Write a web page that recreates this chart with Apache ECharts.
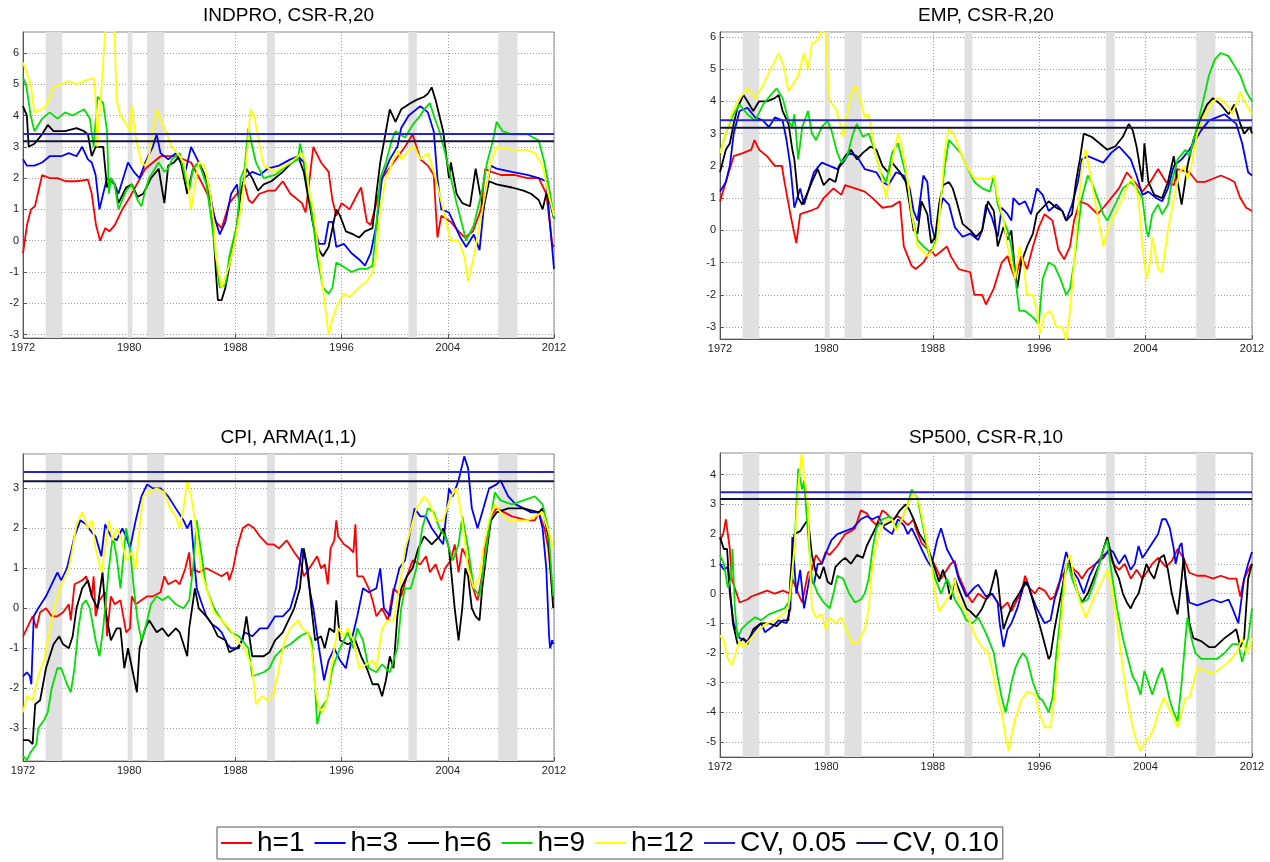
<!DOCTYPE html>
<html><head><meta charset="utf-8">
<script src="https://cdn.jsdelivr.net/npm/echarts@6/dist/echarts.min.js"></script>
<style>html,body{margin:0;padding:0;background:#fff}#c{width:1270px;height:862px}</style>
</head><body><div id="c"></div>
<script>
// ---------- data ----------
const panelTitles = ['INDPRO, CSR-R,20', 'EMP, CSR-R,20', 'CPI, ARMA(1,1)', 'SP500, CSR-R,10'];
const seriesNames = ['h=1', 'h=3', 'h=6', 'h=9', 'h=12'];
const cvNames = ['CV, 0.05', 'CV, 0.10'];
const cvValues = [3.41, 3.18];
const xTicks = [1972, 1980, 1988, 1996, 2004, 2012];
const yTicksINDPRO = [-3, -2, -1, 0, 1, 2, 3, 4, 5, 6];
const yTicksEMP = [-3, -2, -1, 0, 1, 2, 3, 4, 5, 6];
const yTicksCPI = [-3, -2, -1, 0, 1, 2, 3];
const yTicksSP500 = [-5, -4, -3, -2, -1, 0, 1, 2, 3, 4];
const yRanges = [[-3.11, 6.67], [-3.37, 6.15], [-3.82, 3.86], [-5.5, 4.73]];
const recessions = [[1973.7, 1974.95], [1979.88, 1980.25], [1981.35, 1982.65], [1990.38, 1990.97], [2001.03, 2001.67], [2007.8, 2009.25]];

const INDPRO_h1 = [[1972,-0.4],[1972.3,0.5],[1972.6,1.0],[1972.9,1.1],[1973.44,2.1],[1974.01,2.0],[1974.6,2.0],[1975.2,1.9],[1976.03,1.9],[1976.89,1.95],[1977.18,1.5],[1977.5,0.5],[1977.81,0.0],[1978.2,0.4],[1978.5,0.3],[1978.91,0.5],[1979.48,1.0],[1980.06,1.4],[1981.21,2.3],[1982.36,2.7],[1983.51,2.7],[1984.66,2.5],[1985.53,1.8],[1986.1,1.3],[1986.53,0.6],[1986.96,0.4],[1987.54,1.2],[1988.12,1.5],[1988.69,1.8],[1989.0,1.3],[1989.27,1.2],[1989.8,1.5],[1990.5,1.6],[1990.99,1.6],[1991.57,1.9],[1992.14,1.5],[1993.01,1.2],[1993.29,0.9],[1993.87,3.0],[1994.45,2.5],[1995.02,2.2],[1995.31,1.3],[1995.6,0.8],[1996.0,1.2],[1996.6,1.0],[1997.2,1.5],[1997.47,1.7],[1997.9,0.6],[1998.19,0.5],[1998.62,1.2],[1999.05,2.0],[1999.91,2.5],[2000.78,3.0],[2001.35,3.4],[2001.64,3.0],[2001.93,2.6],[2002.5,2.4],[2002.94,2.1],[2003.22,0.1],[2003.51,0.8],[2004.23,0.6],[2004.81,0.3],[2005.3,0.1],[2005.9,0.3],[2006.5,1.0],[2006.82,2.3],[2007.3,2.2],[2008.0,2.1],[2009.0,2.1],[2010.0,2.0],[2010.85,2.0],[2011.42,1.5],[2011.86,-0.1],[2012,-0.2]];
const INDPRO_h3 = [[1972,2.6],[1972.29,2.4],[1972.86,2.4],[1973.44,2.5],[1974.01,2.7],[1974.88,2.7],[1975.45,2.8],[1976.03,2.7],[1976.46,3.0],[1976.89,2.6],[1977.18,2.5],[1977.47,2.1],[1977.76,1.0],[1978.04,1.5],[1978.33,2.0],[1978.91,1.8],[1979.19,1.5],[1979.91,2.5],[1980.35,2.2],[1980.78,2.0],[1981.21,2.5],[1981.78,3.0],[1982.07,3.4],[1982.36,2.8],[1982.94,2.6],[1983.51,2.8],[1984.23,2.2],[1984.66,3.0],[1985.24,2.5],[1985.96,1.8],[1986.39,0.8],[1986.82,0.2],[1987.25,0.6],[1987.68,1.5],[1988.12,1.8],[1988.26,1.3],[1988.69,2.0],[1989.27,2.2],[1989.84,2.1],[1990.42,2.3],[1991.28,2.4],[1992.14,2.6],[1992.72,2.7],[1993.15,2.5],[1993.53,1.5],[1993.87,0.5],[1994.3,-0.1],[1994.73,-0.1],[1995.02,0.6],[1995.31,0.6],[1995.6,-0.2],[1996.17,-0.1],[1996.75,-0.4],[1997.32,-0.6],[1997.76,-0.8],[1998.19,-0.4],[1998.62,0.5],[1999.05,2.0],[1999.63,2.6],[2000.2,3.0],[2000.49,3.6],[2001.06,4.0],[2001.93,4.3],[2002.5,4.1],[2002.94,3.5],[2003.22,2.0],[2003.51,1.0],[2004.09,0.9],[2004.52,0.5],[2004.95,0.1],[2005.38,-0.2],[2005.96,0.2],[2006.39,-0.3],[2006.82,1.5],[2007.25,2.4],[2007.68,2.3],[2008.83,2.2],[2009.99,2.1],[2010.85,2.0],[2011.42,1.9],[2011.71,0.5],[2012,-0.9]];
const INDPRO_h6 = [[1972,4.3],[1972.06,4.3],[1972.29,4.0],[1972.43,3.0],[1972.86,3.1],[1973.44,3.4],[1973.87,3.7],[1974.3,3.5],[1975.17,3.5],[1976.03,3.6],[1976.6,3.5],[1976.89,3.4],[1977.18,2.7],[1977.47,3.0],[1978.04,3.0],[1978.33,1.7],[1978.62,2.0],[1978.91,1.8],[1979.19,1.2],[1979.77,1.7],[1980.2,1.8],[1980.63,1.4],[1981.06,1.5],[1981.64,2.0],[1982.22,2.3],[1982.65,1.2],[1982.94,2.4],[1983.37,2.5],[1983.8,2.7],[1984.37,1.5],[1984.81,2.3],[1985.24,2.5],[1985.81,2.0],[1986.24,1.0],[1986.39,0.0],[1986.53,-1.0],[1986.68,-1.9],[1986.96,-1.9],[1987.25,-1.5],[1987.68,-0.5],[1988.12,0.5],[1988.4,1.5],[1988.83,2.3],[1989.27,2.0],[1989.7,1.6],[1990.13,1.8],[1990.71,1.9],[1991.57,2.2],[1992.72,2.7],[1993.15,2.2],[1993.44,1.5],[1993.87,0.5],[1994.3,-0.3],[1994.59,-0.5],[1995.02,-0.2],[1995.6,1.0],[1995.88,0.8],[1996.32,0.3],[1996.89,0.2],[1997.32,0.1],[1997.76,0.3],[1998.33,0.4],[1998.62,1.5],[1998.91,2.5],[1999.34,3.5],[1999.63,4.2],[2000.06,3.8],[2000.49,4.2],[2001.21,4.4],[2001.64,4.5],[2002.22,4.6],[2002.5,4.7],[2002.79,4.9],[2003.08,4.5],[2003.65,3.5],[2004.09,2.0],[2004.23,2.5],[2004.66,1.5],[2005.09,1.2],[2005.67,1.1],[2006.1,2.3],[2006.39,1.6],[2006.68,1.0],[2007.11,1.9],[2007.68,1.8],[2008.83,1.7],[2009.7,1.6],[2010.27,1.5],[2010.85,1.3],[2011.14,1.0],[2011.42,1.5],[2011.71,1.2],[2012,0.7]];
const INDPRO_h9 = [[1972,5.2],[1972.23,5.0],[1972.58,4.0],[1972.86,3.5],[1973.44,3.9],[1974.01,4.1],[1974.59,3.9],[1975.17,4.1],[1975.74,4.0],[1976.6,4.2],[1977.04,3.9],[1977.32,3.0],[1977.61,4.6],[1978.04,4.4],[1978.33,3.5],[1978.47,1.5],[1978.62,2.0],[1978.91,1.8],[1979.19,1.0],[1979.77,1.6],[1980.2,1.8],[1980.63,1.3],[1980.92,1.1],[1981.21,1.6],[1981.5,2.0],[1982.22,2.5],[1982.65,2.2],[1982.94,2.3],[1983.22,2.6],[1983.8,2.8],[1984.23,2.0],[1984.52,1.6],[1984.81,2.3],[1985.24,2.5],[1985.81,1.8],[1986.24,0.5],[1986.53,-0.5],[1986.82,-1.5],[1987.25,-1.4],[1987.54,-0.5],[1988.12,0.5],[1988.4,2.0],[1988.69,2.3],[1988.98,3.6],[1989.27,3.0],[1989.55,2.5],[1990.13,2.0],[1990.99,2.1],[1991.86,2.4],[1992.72,2.6],[1992.86,3.1],[1993.15,2.6],[1993.58,1.5],[1993.87,0.5],[1994.16,-0.5],[1994.59,-1.5],[1995.02,-1.7],[1995.31,-1.5],[1995.6,-0.7],[1996.03,-0.8],[1996.75,-1.0],[1997.32,-0.9],[1997.9,-0.9],[1998.33,-0.8],[1998.62,0.5],[1998.91,2.0],[1999.34,2.5],[1999.77,3.2],[2000.06,3.5],[2000.78,3.3],[2001.35,3.7],[2001.93,4.0],[2002.22,4.2],[2002.65,4.4],[2002.94,4.0],[2003.37,3.5],[2003.8,2.8],[2004.23,2.0],[2004.66,1.2],[2005.09,0.5],[2005.38,0.0],[2005.96,0.5],[2006.53,1.5],[2006.96,2.5],[2007.4,3.2],[2007.68,3.8],[2008.12,3.5],[2008.83,3.4],[2009.99,3.4],[2010.85,3.2],[2011.28,2.5],[2011.71,1.5],[2012,0.7]];
const INDPRO_h12 = [[1972,5.7],[1972.58,5.0],[1972.86,4.1],[1973.44,4.2],[1973.73,4.3],[1974.3,4.9],[1974.88,5.0],[1975.45,5.1],[1976.03,5.0],[1976.6,5.1],[1977.32,5.2],[1977.47,4.5],[1977.61,3.0],[1977.9,4.8],[1978.19,6.7],[1978.9,6.7],[1979.05,4.5],[1979.34,4.0],[1979.8,3.7],[1980.06,3.5],[1980.2,4.3],[1980.49,3.3],[1980.92,2.5],[1981.21,2.4],[1981.5,2.7],[1981.78,3.5],[1982.07,4.2],[1982.65,3.6],[1983.22,3.0],[1983.8,2.7],[1984.09,2.5],[1984.37,2.0],[1984.66,1.0],[1984.95,1.8],[1985.24,2.5],[1985.67,2.4],[1986.1,1.5],[1986.39,0.5],[1986.53,-0.5],[1986.96,-1.5],[1987.54,-0.8],[1987.97,0.0],[1988.4,1.0],[1988.69,2.0],[1988.92,3.0],[1989.12,4.2],[1989.41,4.0],[1989.84,3.0],[1990.13,2.4],[1990.99,2.2],[1992.14,2.5],[1993.01,2.8],[1993.29,2.5],[1993.58,1.5],[1993.87,1.0],[1994.16,0.0],[1994.45,-1.0],[1994.73,-2.0],[1995.02,-3.0],[1995.31,-2.5],[1995.74,-2.0],[1996.17,-1.7],[1996.6,-1.8],[1997.32,-1.5],[1997.9,-1.3],[1998.33,-1.0],[1998.62,-0.5],[1998.91,1.0],[1999.34,2.0],[2000.2,2.9],[2000.49,2.6],[2001.06,2.9],[2001.5,3.0],[2001.93,2.6],[2002.5,2.8],[2003.08,2.0],[2003.65,1.0],[2004.23,0.0],[2004.81,0.0],[2005.24,-0.5],[2005.53,-1.3],[2005.96,-0.5],[2006.39,0.5],[2006.82,1.5],[2007.25,2.5],[2007.68,3.0],[2008.83,2.9],[2009.99,2.9],[2010.56,2.8],[2011.14,2.4],[2011.57,1.5],[2012,0.8]];

const EMP_h1 = [[1972,0.9],[1972.44,1.5],[1973.03,2.3],[1973.76,2.4],[1974.35,2.5],[1974.59,2.8],[1974.94,2.5],[1975.53,2.3],[1976.12,2.0],[1976.65,2.0],[1976.85,1.5],[1977.29,0.5],[1977.74,-0.4],[1978.03,0.5],[1978.76,0.6],[1979.35,0.7],[1979.79,1.0],[1980.53,1.3],[1981.12,1.1],[1981.41,1.4],[1982.15,1.3],[1982.88,1.2],[1983.47,1.0],[1984.21,0.7],[1984.94,0.75],[1985.53,0.9],[1985.68,0.9],[1985.82,-0.5],[1986.41,-1.1],[1986.71,-1.2],[1987.29,-1.0],[1987.88,-0.6],[1988.18,-0.8],[1989.06,-0.5],[1989.35,-0.8],[1989.94,-1.2],[1990.82,-1.3],[1991.12,-2.0],[1991.71,-2.0],[1992.0,-2.3],[1992.59,-1.8],[1993.18,-1.0],[1993.62,-0.8],[1993.91,-1.2],[1994.21,-1.5],[1994.65,-0.8],[1995.09,-1.2],[1995.53,-0.5],[1995.97,0.1],[1996.41,0.5],[1997.0,0.3],[1997.44,-0.6],[1997.88,-0.9],[1998.32,-0.5],[1998.62,0.3],[1999.06,0.9],[1999.65,0.8],[2000.38,0.5],[2000.82,0.7],[2001.41,1.0],[2002.0,1.3],[2002.59,1.8],[2003.18,1.5],[2003.76,1.2],[2004.35,1.5],[2004.94,1.9],[2005.53,1.5],[2006.12,1.4],[2006.41,1.9],[2007.29,1.8],[2007.88,1.5],[2008.47,1.5],[2009.06,1.6],[2009.65,1.7],[2010.24,1.6],[2010.68,1.5],[2011.12,1.0],[2011.56,0.7],[2012,0.6]];
const EMP_h3 = [[1972,1.2],[1972.44,1.5],[1972.74,2.0],[1973.03,3.0],[1973.47,3.7],[1974.06,3.8],[1974.65,3.5],[1975.24,3.4],[1975.68,3.2],[1976.12,3.5],[1976.71,3.4],[1977.0,2.8],[1977.29,2.0],[1977.59,0.7],[1978.03,1.3],[1978.32,0.8],[1978.76,1.4],[1979.06,1.8],[1979.65,2.1],[1980.24,2.0],[1980.82,1.9],[1981.26,2.1],[1981.71,2.4],[1982.29,2.3],[1982.88,1.9],[1983.76,1.8],[1984.21,1.5],[1984.65,1.4],[1985.24,1.8],[1985.82,1.7],[1986.26,1.3],[1986.56,0.6],[1986.85,0.3],[1987.29,1.7],[1987.59,1.5],[1987.88,0.2],[1988.18,-0.3],[1988.47,0.5],[1988.76,1.0],[1989.21,0.8],[1989.65,0.1],[1990.24,-0.2],[1990.82,-0.1],[1991.41,-0.3],[1991.71,0.0],[1992.0,0.8],[1992.44,0.4],[1992.88,-0.2],[1993.18,0.7],[1993.62,0.5],[1993.91,0.3],[1994.06,1.0],[1994.5,0.8],[1994.94,0.9],[1995.38,0.5],[1995.82,1.3],[1996.26,1.1],[1996.71,0.6],[1997.29,0.8],[1997.74,0.6],[1998.03,0.3],[1998.47,0.8],[1998.91,1.5],[1999.21,2.2],[1999.65,2.3],[2000.24,2.2],[2000.82,2.1],[2001.41,2.4],[2002.0,2.6],[2002.44,2.4],[2002.88,2.2],[2003.32,1.7],[2003.76,1.1],[2004.21,1.2],[2004.79,1.0],[2005.24,0.9],[2005.68,1.3],[2006.12,2.0],[2006.71,2.2],[2007.29,2.5],[2007.74,2.8],[2008.18,3.1],[2008.76,3.4],[2009.35,3.5],[2009.94,3.6],[2010.53,3.4],[2010.82,3.3],[2011.26,2.7],[2011.71,1.8],[2012,1.7]];
const EMP_h6 = [[1972,1.8],[1972.44,2.5],[1972.74,2.7],[1973.03,3.3],[1973.32,3.8],[1973.76,4.2],[1974.06,4.0],[1974.5,3.7],[1974.94,4.0],[1975.53,4.0],[1976.12,4.1],[1976.41,4.2],[1976.71,3.7],[1977.15,3.3],[1977.44,2.5],[1977.59,2.2],[1977.88,1.0],[1978.18,0.8],[1978.62,1.2],[1978.91,1.5],[1979.35,1.9],[1979.79,1.4],[1980.24,1.6],[1980.68,1.5],[1980.97,2.0],[1981.41,2.3],[1981.85,2.5],[1982.29,2.2],[1982.74,2.4],[1983.32,2.6],[1983.76,2.5],[1984.21,2.0],[1984.65,1.8],[1984.94,2.1],[1985.53,1.8],[1985.97,1.5],[1986.26,0.8],[1986.56,0.0],[1986.85,-0.1],[1987.15,0.9],[1987.59,0.5],[1987.88,-0.4],[1988.18,-0.2],[1988.47,0.8],[1988.76,1.4],[1989.21,1.5],[1989.5,1.3],[1989.79,0.9],[1990.24,0.2],[1990.82,0.0],[1991.26,-0.2],[1991.71,0.0],[1992.15,0.9],[1992.59,0.6],[1992.88,-0.5],[1993.32,0.1],[1993.62,-0.3],[1993.91,0.0],[1994.12,-1.0],[1994.35,-1.8],[1994.65,-1.0],[1995.09,-0.5],[1995.53,-0.1],[1995.82,0.5],[1996.26,0.7],[1996.71,0.9],[1997.29,0.7],[1997.74,0.6],[1998.03,0.3],[1998.47,0.5],[1998.76,1.5],[1999.06,2.2],[1999.35,3.0],[1999.94,2.9],[2000.53,2.7],[2001.12,2.5],[2001.71,2.6],[2002.29,2.9],[2002.74,3.3],[2003.03,3.1],[2003.32,2.6],[2003.76,1.5],[2003.91,2.7],[2004.21,1.5],[2004.65,1.1],[2005.24,1.0],[2005.68,1.5],[2006.12,2.3],[2006.41,1.5],[2006.71,0.8],[2007.15,2.0],[2007.59,2.8],[2008.18,3.5],[2008.62,3.9],[2009.06,4.1],[2009.65,3.9],[2010.24,3.6],[2010.68,3.9],[2011.12,3.3],[2011.41,3.0],[2011.85,3.2],[2012,3.0]];
const EMP_h9 = [[1972,2.4],[1972.44,3.0],[1972.88,3.5],[1973.47,3.9],[1974.06,3.6],[1974.65,3.4],[1975.24,3.9],[1975.82,4.2],[1976.26,4.4],[1976.71,4.1],[1977.15,3.4],[1977.44,3.2],[1977.59,3.6],[1977.88,2.2],[1978.18,3.2],[1978.62,3.7],[1978.91,3.0],[1979.21,2.8],[1979.65,3.2],[1980.09,3.4],[1980.38,3.1],[1980.82,2.4],[1981.12,2.1],[1981.56,2.3],[1982.0,3.0],[1982.29,3.3],[1982.74,2.9],[1983.18,3.0],[1983.62,2.5],[1984.06,1.8],[1984.5,1.5],[1984.94,2.4],[1985.38,2.7],[1985.68,2.2],[1986.12,1.5],[1986.41,0.5],[1986.85,-0.3],[1987.29,-0.5],[1987.88,-0.7],[1988.32,-0.2],[1988.62,1.0],[1988.91,2.0],[1989.21,2.8],[1989.65,2.6],[1990.09,2.4],[1990.53,2.0],[1991.12,1.5],[1991.71,1.3],[1992.29,1.2],[1992.59,1.7],[1992.88,0.8],[1993.32,0.3],[1993.62,0.0],[1993.91,-0.5],[1994.21,-1.5],[1994.5,-2.5],[1994.94,-2.5],[1995.53,-2.7],[1995.97,-2.9],[1996.26,-1.5],[1996.71,-1.0],[1997.15,-1.1],[1997.59,-1.5],[1998.03,-2.0],[1998.32,-1.8],[1998.62,-1.0],[1998.91,0.0],[1999.21,1.0],[1999.65,1.7],[1999.94,1.5],[2000.38,1.0],[2000.82,0.5],[2001.12,0.3],[2001.71,0.8],[2002.29,1.3],[2002.88,1.5],[2003.32,1.3],[2003.76,1.0],[2004.06,0.0],[2004.21,-0.2],[2004.5,0.5],[2004.94,0.8],[2005.24,0.5],[2005.68,0.8],[2005.97,1.5],[2006.41,2.2],[2007.0,2.5],[2007.29,2.3],[2007.74,3.0],[2008.32,4.0],[2008.76,4.8],[2009.21,5.3],[2009.65,5.5],[2010.24,5.4],[2010.68,5.1],[2011.12,4.8],[2011.56,4.3],[2012,4.0]];
const EMP_h12 = [[1972,2.4],[1972.44,3.0],[1972.88,3.6],[1973.32,4.0],[1974.06,4.4],[1974.65,4.1],[1975.24,4.5],[1975.82,5.0],[1976.41,5.5],[1976.85,5.0],[1977.15,4.3],[1977.44,4.5],[1977.88,4.8],[1978.32,5.5],[1978.62,5.0],[1978.91,5.8],[1979.35,5.9],[1979.65,6.2],[1979.94,6.1],[1980.09,5.0],[1980.24,4.0],[1980.68,3.8],[1981.12,3.2],[1981.26,2.9],[1981.56,3.6],[1981.85,4.2],[1982.15,4.5],[1982.59,4.0],[1982.88,3.5],[1983.18,3.6],[1983.62,2.5],[1984.06,1.8],[1984.5,1.0],[1984.94,2.1],[1985.38,3.0],[1985.68,2.6],[1986.12,1.5],[1986.41,0.5],[1986.85,-0.5],[1987.59,-0.8],[1988.03,-0.6],[1988.32,-0.3],[1988.62,1.0],[1988.91,2.5],[1989.21,3.2],[1989.65,2.9],[1990.09,2.4],[1990.53,2.0],[1991.12,1.6],[1991.71,1.6],[1992.29,1.6],[1992.59,1.7],[1992.88,1.0],[1993.32,0.3],[1993.62,-0.5],[1993.91,-1.0],[1994.21,-1.5],[1994.5,-0.5],[1994.79,-1.0],[1995.09,-2.0],[1995.53,-2.0],[1995.82,-2.5],[1996.06,-3.2],[1996.41,-2.6],[1996.85,-2.5],[1997.29,-3.0],[1997.74,-3.0],[1998.03,-3.4],[1998.32,-2.5],[1998.62,-1.0],[1998.91,0.5],[1999.21,2.0],[1999.5,2.5],[1999.94,1.5],[2000.38,0.5],[2000.82,-0.5],[2001.12,0.0],[2001.71,0.5],[2002.29,1.0],[2002.74,1.5],[2003.03,1.6],[2003.47,1.0],[2003.76,-0.5],[2004.06,-1.5],[2004.35,-1.0],[2004.5,-0.2],[2004.94,-1.2],[2005.24,-1.3],[2005.68,0.0],[2006.12,1.0],[2006.56,1.8],[2006.85,2.0],[2007.15,1.6],[2007.44,2.0],[2007.88,3.0],[2008.32,3.5],[2009.06,4.0],[2009.5,4.1],[2010.09,3.9],[2010.53,3.6],[2011.12,4.3],[2011.41,4.0],[2012,3.6]];

const CPI_h1 = [[1972,-0.7],[1972.29,-0.5],[1972.58,-0.3],[1972.72,-0.2],[1973.01,-0.5],[1973.29,-0.1],[1973.73,0.0],[1974.16,-0.2],[1974.59,-0.2],[1975.02,-0.1],[1975.45,0.1],[1975.6,-0.3],[1975.88,0.6],[1976.46,0.7],[1976.75,0.8],[1977.04,0.5],[1977.18,0.3],[1977.32,0.8],[1977.47,-0.2],[1977.76,0.2],[1978.19,0.4],[1978.33,-0.7],[1978.62,0.3],[1978.91,0.1],[1979.34,0.2],[1979.77,-0.6],[1980.06,-0.5],[1980.2,0.3],[1980.49,0.1],[1980.92,0.2],[1981.35,0.3],[1981.78,0.3],[1982.36,0.4],[1982.65,0.8],[1982.94,0.6],[1983.51,0.7],[1983.8,0.6],[1984.23,1.0],[1984.52,1.4],[1984.66,0.8],[1984.81,1.0],[1985.24,0.9],[1985.81,1.0],[1986.39,0.9],[1986.96,0.8],[1987.4,0.9],[1987.54,0.7],[1987.83,1.0],[1988.12,1.5],[1988.55,2.0],[1988.98,2.1],[1989.41,2.0],[1989.84,1.8],[1990.42,1.6],[1990.85,1.6],[1991.28,1.5],[1991.86,1.7],[1992.43,1.4],[1992.86,1.2],[1993.15,0.8],[1993.58,1.0],[1994.16,1.3],[1994.45,1.0],[1994.73,1.1],[1994.96,0.6],[1995.17,1.5],[1995.45,1.7],[1995.6,2.2],[1995.74,1.8],[1996.17,1.6],[1996.6,1.5],[1996.89,1.4],[1997.04,2.1],[1997.18,0.8],[1997.61,0.8],[1998.04,0.5],[1998.33,0.2],[1998.62,-0.2],[1999.05,0.0],[1999.48,-0.3],[1999.91,0.5],[2000.49,0.3],[2000.92,0.8],[2001.35,1.2],[2001.93,1.1],[2002.36,1.3],[2002.65,0.9],[2003.08,1.1],[2003.51,0.7],[2003.8,1.0],[2004.23,1.2],[2004.52,1.6],[2004.81,0.9],[2005.09,1.5],[2005.53,1.2],[2005.81,0.6],[2006.1,0.3],[2006.24,0.2],[2006.68,1.0],[2006.82,1.6],[2007.25,2.3],[2007.68,2.5],[2008.26,2.4],[2008.83,2.3],[2009.99,2.2],[2010.56,2.2],[2010.85,2.4],[2011.28,2.0],[2011.57,1.5],[2011.94,0.2]];
const CPI_h3 = [[1972,-1.7],[1972.29,-1.6],[1972.52,-1.7],[1972.63,-1.9],[1972.81,-0.2],[1973.15,0.0],[1973.73,0.3],[1974.16,0.6],[1974.59,0.9],[1974.88,0.7],[1975.31,1.0],[1975.6,1.4],[1975.88,1.8],[1976.32,2.2],[1976.75,2.1],[1977.18,1.9],[1977.47,1.8],[1977.9,1.3],[1978.19,2.1],[1978.62,1.8],[1979.05,1.7],[1979.48,2.0],[1979.77,1.8],[1980.06,1.5],[1980.49,2.2],[1980.92,2.8],[1981.35,3.1],[1981.78,3.0],[1982.36,3.0],[1982.94,2.8],[1983.51,2.5],[1984.09,2.2],[1984.37,2.0],[1984.66,2.2],[1984.95,1.0],[1985.09,0.5],[1985.38,0.2],[1985.81,-0.2],[1986.24,-0.4],[1986.68,-0.5],[1986.96,-0.6],[1987.4,-0.9],[1987.68,-1.0],[1988.26,-1.0],[1988.69,-0.6],[1989.27,-0.7],[1989.84,-0.5],[1990.42,-0.5],[1990.99,-0.2],[1991.57,-0.2],[1992.14,0.0],[1992.57,0.5],[1993.01,1.5],[1993.29,1.2],[1993.58,0.5],[1993.87,0.0],[1994.3,-1.0],[1994.68,-1.8],[1995.02,-1.3],[1995.45,-1.0],[1995.88,-1.3],[1996.32,-1.5],[1996.75,-0.8],[1997.18,-0.2],[1997.61,0.5],[1998.04,0.4],[1998.62,0.5],[1998.91,1.0],[1999.19,0.0],[1999.63,-0.2],[1999.91,0.4],[2000.35,1.0],[2000.78,1.2],[2001.21,2.0],[2001.5,2.5],[2001.93,2.3],[2002.36,2.3],[2002.79,2.0],[2003.22,1.8],[2003.65,1.6],[2004.09,3.0],[2004.37,2.8],[2004.81,3.2],[2005.24,3.8],[2005.53,3.5],[2005.81,2.5],[2006.24,2.0],[2006.68,2.5],[2007.11,3.0],[2007.68,3.1],[2007.97,3.2],[2008.55,2.8],[2009.12,2.6],[2009.7,2.5],[2010.27,2.4],[2010.85,2.4],[2011.14,2.0],[2011.42,1.0],[2011.63,-0.7],[2011.71,-1.0],[2011.86,-0.8],[2011.94,-0.9]];
const CPI_h6 = [[1972,-3.3],[1972.43,-3.3],[1972.72,-3.4],[1972.92,-2.4],[1973.29,-2.3],[1973.73,-1.5],[1974.3,-0.9],[1974.73,-0.7],[1975.02,-0.9],[1975.45,-1.0],[1975.74,-0.7],[1976.03,0.0],[1976.46,0.5],[1976.89,0.7],[1977.18,0.3],[1977.61,0.0],[1977.99,0.9],[1978.19,0.0],[1978.62,-0.8],[1979.05,-0.5],[1979.34,-0.5],[1979.63,-1.5],[1979.91,-1.0],[1980.58,-2.1],[1980.78,-1.0],[1981.21,-0.5],[1981.5,-0.3],[1982.07,-0.6],[1982.5,-0.5],[1982.94,-0.7],[1983.51,-0.5],[1983.8,-0.6],[1984.09,-0.9],[1984.37,-1.2],[1984.52,-0.5],[1984.95,0.5],[1985.24,0.0],[1985.81,-0.2],[1986.24,-0.4],[1986.68,-0.7],[1987.25,-0.8],[1987.54,-1.1],[1988.12,-1.0],[1988.55,-0.8],[1988.83,-0.2],[1989.27,-1.2],[1990.13,-1.2],[1990.56,-1.1],[1990.99,-0.8],[1991.57,-0.6],[1992.0,-0.3],[1992.43,0.0],[1992.86,0.5],[1993.15,1.5],[1993.44,1.0],[1993.73,0.0],[1994.01,-0.8],[1994.45,-0.7],[1994.73,-1.0],[1995.08,-0.5],[1995.45,-0.6],[1995.6,0.2],[1995.88,-0.8],[1996.46,-0.9],[1997.04,-0.8],[1997.47,-1.2],[1997.9,-1.5],[1998.33,-1.9],[1998.76,-1.9],[1999.05,-2.2],[1999.34,-1.8],[1999.63,-1.2],[1999.91,-1.5],[2000.2,-0.2],[2000.49,0.5],[2000.92,0.8],[2001.35,1.0],[2001.78,1.5],[2002.22,1.8],[2002.79,1.6],[2003.37,1.8],[2003.65,2.0],[2004.09,1.5],[2004.52,0.0],[2004.81,-0.8],[2005.09,0.0],[2005.32,1.0],[2005.53,0.8],[2005.81,0.0],[2006.1,-0.2],[2006.39,-0.3],[2006.59,0.5],[2006.96,1.5],[2007.25,2.2],[2007.68,2.4],[2008.55,2.5],[2009.7,2.5],[2010.85,2.4],[2011.14,2.5],[2011.57,1.8],[2011.94,0.0]];
const CPI_h9 = [[1972,-3.7],[1972.29,-3.8],[1972.58,-3.6],[1973.01,-3.4],[1973.15,-3.0],[1973.58,-2.8],[1973.87,-2.6],[1974.16,-2.0],[1974.59,-1.5],[1974.88,-1.5],[1975.31,-1.9],[1975.6,-2.1],[1975.88,-1.5],[1976.17,-0.5],[1976.46,0.1],[1976.75,0.2],[1977.04,0.0],[1977.47,-0.8],[1977.76,-1.2],[1978.04,-0.5],[1978.47,1.0],[1978.76,1.8],[1979.05,1.3],[1979.34,0.5],[1979.63,1.5],[1979.77,2.0],[1980.06,1.5],[1980.35,0.5],[1980.63,-0.3],[1980.92,-0.8],[1981.21,-0.5],[1981.64,0.1],[1982.07,0.3],[1982.5,0.2],[1982.94,0.3],[1983.51,0.1],[1984.09,0.0],[1984.52,0.2],[1984.81,1.0],[1985.09,2.2],[1985.38,1.5],[1985.81,0.5],[1986.39,0.0],[1986.96,-0.3],[1987.68,-0.6],[1988.26,-0.7],[1988.98,-1.0],[1989.27,-1.7],[1990.13,-1.6],[1990.56,-1.5],[1990.99,-1.2],[1991.57,-1.0],[1992.14,-0.9],[1992.86,-0.7],[1993.44,-0.6],[1993.73,-0.8],[1994.01,-2.0],[1994.16,-2.9],[1994.45,-2.5],[1994.88,-2.3],[1995.31,-1.5],[1995.88,-1.0],[1996.46,-0.6],[1996.89,-1.0],[1997.18,-0.5],[1997.61,-0.8],[1998.04,-1.5],[1998.62,-1.6],[1999.05,-1.4],[1999.63,-1.6],[2000.2,-1.0],[2000.49,0.0],[2000.78,0.5],[2001.21,0.5],[2001.64,1.0],[2002.07,2.0],[2002.5,2.5],[2002.94,2.4],[2003.37,2.0],[2003.8,1.8],[2004.09,1.5],[2004.37,1.2],[2004.81,1.6],[2005.09,2.3],[2005.53,1.5],[2005.96,0.5],[2006.39,0.3],[2006.68,1.0],[2007.11,2.0],[2007.54,2.9],[2007.97,2.7],[2008.83,2.6],[2009.7,2.7],[2010.56,2.8],[2011.14,2.6],[2011.57,2.0],[2011.94,0.3]];
const CPI_h12 = [[1972,-2.6],[1972.29,-2.2],[1972.72,-2.3],[1973.15,-1.7],[1973.58,-1.3],[1973.87,-0.8],[1974.16,-0.3],[1974.59,0.3],[1975.02,0.7],[1975.45,1.0],[1975.74,1.5],[1976.03,2.1],[1976.46,2.4],[1976.89,2.0],[1977.18,2.2],[1977.47,1.5],[1977.9,0.9],[1978.19,1.5],[1978.47,2.2],[1978.76,1.7],[1979.05,2.0],[1979.34,1.8],[1979.77,1.2],[1980.2,1.4],[1980.49,1.0],[1980.78,2.0],[1981.06,2.8],[1981.5,2.9],[1982.07,3.0],[1982.65,2.9],[1983.08,2.5],[1983.51,2.3],[1983.8,2.0],[1984.09,2.5],[1984.37,3.2],[1984.66,2.8],[1984.95,2.2],[1985.38,1.0],[1985.81,0.5],[1986.39,-0.1],[1986.96,-0.3],[1987.54,-0.5],[1988.12,-0.8],[1988.69,-1.0],[1989.27,-1.5],[1989.55,-2.4],[1989.99,-2.2],[1990.42,-2.3],[1990.85,-2.2],[1991.28,-1.5],[1991.71,-0.8],[1992.14,-0.5],[1992.72,-0.3],[1993.01,-0.5],[1993.44,-0.6],[1993.73,-1.0],[1994.01,-2.0],[1994.3,-2.5],[1994.59,-2.6],[1994.88,-2.3],[1995.17,-1.6],[1995.45,-1.0],[1995.74,-0.5],[1996.17,-0.7],[1996.46,-0.5],[1996.89,-0.8],[1997.32,-1.5],[1997.9,-1.4],[1998.33,-1.3],[1998.62,-1.5],[1999.05,-0.5],[1999.48,-0.3],[1999.91,-0.3],[2000.35,0.5],[2000.78,1.5],[2001.06,1.8],[2001.64,2.5],[2002.22,2.8],[2002.65,2.6],[2003.08,2.2],[2003.65,2.2],[2003.94,2.5],[2004.23,2.8],[2004.66,3.0],[2004.95,2.5],[2005.24,1.8],[2005.53,1.0],[2005.96,0.5],[2006.39,0.8],[2006.68,1.5],[2007.11,2.2],[2007.54,2.6],[2007.97,2.4],[2008.55,2.2],[2009.41,2.2],[2009.99,2.2],[2010.56,2.3],[2011.14,2.4],[2011.71,1.8],[2011.94,1.5]];

const SP500_h1 = [[1972,1.8],[1972.24,2.0],[1972.44,2.5],[1972.59,2.5],[1972.74,1.5],[1972.88,0.5],[1973.47,-0.3],[1974.06,-0.2],[1974.35,-0.1],[1974.94,0.0],[1975.53,0.1],[1976.12,0.0],[1976.71,0.1],[1977.29,0.0],[1977.44,0.5],[1977.88,0.0],[1978.18,-0.3],[1978.62,0.7],[1978.91,0.8],[1979.21,1.3],[1979.65,1.0],[1979.94,1.4],[1980.24,1.3],[1980.82,1.6],[1981.41,2.0],[1981.85,2.1],[1982.15,2.2],[1982.59,2.8],[1983.03,2.7],[1983.32,2.5],[1983.76,2.3],[1984.21,2.8],[1984.5,2.7],[1984.94,2.5],[1985.38,2.6],[1985.68,2.5],[1986.12,2.3],[1986.56,2.5],[1986.71,2.2],[1987.15,1.7],[1987.59,1.5],[1987.88,1.2],[1988.32,0.8],[1988.62,0.5],[1988.91,0.7],[1989.35,1.0],[1989.65,1.1],[1989.94,0.6],[1990.24,0.3],[1990.53,0.0],[1990.97,-0.3],[1991.41,0.0],[1992.0,-0.2],[1992.44,0.0],[1992.88,-0.3],[1993.18,-0.5],[1993.62,-0.3],[1993.91,-0.6],[1994.35,-0.2],[1994.65,0.0],[1994.94,0.6],[1995.24,0.2],[1995.68,0.0],[1995.97,0.2],[1996.41,0.1],[1996.85,-0.2],[1997.15,-0.1],[1997.44,0.3],[1997.74,0.6],[1998.03,0.8],[1998.32,1.0],[1998.62,0.8],[1998.91,0.7],[1999.21,0.5],[1999.65,0.8],[2000.24,1.0],[2000.82,1.3],[2001.26,1.4],[2001.56,1.0],[2002.0,0.8],[2002.44,1.0],[2002.88,0.5],[2003.32,0.8],[2003.76,0.5],[2004.21,0.8],[2004.5,1.0],[2004.94,1.2],[2005.53,0.9],[2005.97,1.1],[2006.41,1.5],[2006.85,1.2],[2007.29,0.7],[2007.88,0.6],[2008.47,0.6],[2009.06,0.5],[2009.65,0.6],[2010.24,0.5],[2010.82,0.5],[2011.12,-0.1],[2011.41,0.5],[2011.85,0.9],[2012,1.0]];
const SP500_h3 = [[1972,1.0],[1972.29,0.8],[1972.59,0.9],[1972.74,0.0],[1973.03,-1.0],[1973.47,-1.5],[1974.06,-1.6],[1974.5,-1.3],[1975.09,-1.0],[1975.38,-1.3],[1975.97,-1.1],[1976.41,-0.9],[1977.0,-1.0],[1977.29,-0.5],[1977.44,1.9],[1977.74,0.0],[1978.03,0.8],[1978.32,-0.5],[1978.76,0.6],[1979.06,0.3],[1979.35,1.0],[1979.65,1.0],[1980.09,1.5],[1980.38,1.8],[1980.82,2.0],[1981.41,2.1],[1982.0,2.2],[1982.59,2.5],[1983.03,2.6],[1983.47,2.5],[1983.91,2.6],[1984.35,2.2],[1984.94,2.0],[1985.38,2.5],[1985.82,2.3],[1986.12,2.0],[1986.41,2.2],[1986.85,1.8],[1987.15,1.5],[1987.59,1.1],[1987.88,0.9],[1988.32,1.8],[1988.62,2.2],[1989.06,1.5],[1989.65,1.0],[1989.94,0.5],[1990.53,-0.1],[1991.12,0.2],[1991.41,0.3],[1992.0,-0.1],[1992.44,0.0],[1992.88,-0.3],[1993.03,-1.0],[1993.32,-1.8],[1993.62,-1.2],[1993.91,-1.0],[1994.35,-0.5],[1994.79,0.2],[1995.09,0.4],[1995.38,0.0],[1995.82,-0.5],[1996.41,-1.0],[1996.85,-0.9],[1997.15,-0.2],[1997.44,0.2],[1998.03,1.4],[1998.47,0.8],[1998.91,0.5],[1999.35,0.0],[1999.79,0.6],[2000.24,1.0],[2000.82,1.2],[2001.26,1.5],[2001.56,1.4],[2002.0,1.0],[2002.44,1.3],[2002.88,0.8],[2003.18,1.0],[2003.47,1.6],[2003.76,1.2],[2004.21,1.5],[2004.65,1.8],[2004.94,2.0],[2005.24,2.5],[2005.53,2.5],[2005.82,2.2],[2006.12,1.5],[2006.26,1.0],[2006.56,1.6],[2006.71,1.7],[2007.0,0.5],[2007.29,-0.3],[2007.88,-0.4],[2008.47,-0.3],[2009.06,-0.2],[2009.65,-0.3],[2010.24,-0.2],[2010.53,-0.5],[2010.97,-1.0],[2011.41,0.5],[2011.71,1.0],[2012,1.4]];
const SP500_h6 = [[1972,1.9],[1972.29,1.5],[1972.53,1.5],[1972.68,0.5],[1972.97,-1.0],[1973.32,-1.7],[1973.76,-1.5],[1974.06,-1.7],[1974.5,-1.2],[1975.09,-1.0],[1975.68,-1.0],[1976.26,-1.1],[1976.71,-0.9],[1977.15,-0.9],[1977.29,0.5],[1977.59,2.0],[1978.03,2.1],[1978.32,2.3],[1978.62,2.5],[1978.91,1.3],[1979.21,0.7],[1979.5,0.5],[1979.79,0.9],[1980.09,0.4],[1980.38,0.3],[1980.68,0.9],[1981.12,1.1],[1981.41,1.2],[1981.85,1.0],[1982.29,1.3],[1982.74,1.2],[1983.03,1.6],[1983.47,2.0],[1983.91,2.4],[1984.35,2.3],[1984.79,2.4],[1985.09,2.5],[1985.53,2.8],[1985.97,3.0],[1986.26,2.8],[1986.56,2.5],[1987.0,2.0],[1987.59,1.6],[1987.88,1.2],[1988.18,0.8],[1988.47,0.4],[1988.76,0.8],[1989.06,0.4],[1989.35,-0.2],[1989.65,0.5],[1990.09,0.0],[1990.53,-0.5],[1990.82,-0.6],[1991.26,-0.8],[1991.71,-0.5],[1992.0,-0.2],[1992.29,0.0],[1992.59,0.5],[1992.74,0.8],[1992.88,0.5],[1993.12,-0.5],[1993.32,-1.2],[1993.62,-0.8],[1994.06,-0.3],[1994.5,0.0],[1994.94,0.4],[1995.24,0.2],[1995.68,-0.5],[1996.12,-1.2],[1996.71,-2.2],[1996.85,-2.1],[1997.15,-1.2],[1997.44,-0.5],[1997.74,0.2],[1998.03,1.0],[1998.32,1.0],[1998.62,0.5],[1998.91,0.0],[1999.21,-0.3],[1999.65,0.0],[2000.09,0.5],[2000.53,1.0],[2000.82,1.5],[2001.12,1.9],[2001.41,1.3],[2001.71,0.8],[2002.0,0.5],[2002.29,0.0],[2002.59,-0.3],[2002.88,-0.5],[2003.18,-0.2],[2003.47,0.0],[2003.76,0.5],[2004.06,1.0],[2004.35,0.7],[2004.65,0.5],[2005.09,1.2],[2005.38,1.3],[2005.68,0.8],[2005.97,0.0],[2006.26,-0.5],[2006.41,-0.7],[2006.71,0.5],[2006.85,1.2],[2007.0,0.5],[2007.29,-1.0],[2007.59,-1.5],[2008.18,-1.6],[2008.76,-1.8],[2009.21,-1.8],[2009.94,-1.5],[2010.53,-1.3],[2010.82,-1.2],[2011.12,-1.8],[2011.41,-1.5],[2011.71,0.5],[2012,1.0]];
const SP500_h9 = [[1972,1.3],[1972.29,1.0],[1972.59,0.2],[1972.82,0.5],[1972.94,1.5],[1973.12,-0.5],[1973.32,-1.5],[1973.62,-1.2],[1974.06,-1.0],[1974.65,-0.8],[1975.09,-0.9],[1975.68,-0.7],[1976.26,-0.6],[1976.85,-0.5],[1977.29,-0.2],[1977.59,1.5],[1977.88,4.2],[1978.18,3.5],[1978.32,3.8],[1978.62,2.0],[1978.91,0.5],[1979.35,0.0],[1979.79,-0.3],[1980.24,-0.5],[1980.53,0.0],[1980.82,0.6],[1981.26,0.5],[1981.71,0.0],[1982.15,-0.3],[1982.59,-0.2],[1982.88,0.0],[1983.18,0.5],[1983.47,1.5],[1983.76,2.2],[1984.21,2.5],[1984.79,2.6],[1985.24,2.2],[1985.68,2.5],[1986.12,3.0],[1986.41,3.5],[1986.85,3.2],[1987.29,2.2],[1987.59,1.5],[1987.88,1.0],[1988.18,0.5],[1988.62,0.0],[1989.06,0.5],[1989.35,0.2],[1989.65,-0.2],[1990.09,-0.5],[1990.53,-0.9],[1990.97,-1.0],[1991.41,-0.8],[1991.85,-1.2],[1992.15,-1.5],[1992.59,-2.0],[1992.88,-2.8],[1993.18,-3.5],[1993.47,-4.0],[1993.71,-3.5],[1993.91,-3.0],[1994.21,-2.5],[1994.5,-2.2],[1994.79,-2.0],[1995.09,-2.2],[1995.53,-3.0],[1995.97,-3.5],[1996.26,-3.6],[1996.71,-4.0],[1997.0,-3.5],[1997.29,-2.0],[1997.59,-0.8],[1997.88,0.5],[1998.18,1.0],[1998.47,0.5],[1998.91,0.0],[1999.21,-0.3],[1999.65,-0.2],[2000.09,0.3],[2000.53,1.0],[2000.82,1.5],[2001.12,1.8],[2001.41,0.8],[2001.85,-0.5],[2002.29,-1.5],[2002.74,-2.3],[2003.03,-2.8],[2003.32,-3.0],[2003.62,-3.4],[2003.91,-2.6],[2004.21,-3.0],[2004.5,-3.4],[2004.94,-2.8],[2005.24,-2.5],[2005.53,-3.0],[2005.82,-3.6],[2006.12,-4.0],[2006.41,-4.3],[2006.71,-3.0],[2007.0,-1.5],[2007.15,-0.8],[2007.44,-1.5],[2007.74,-2.0],[2008.18,-2.2],[2008.76,-2.2],[2009.35,-2.2],[2009.94,-2.0],[2010.53,-1.7],[2010.97,-1.7],[2011.26,-2.3],[2011.71,-1.5],[2012,-0.5]];
const SP500_h12 = [[1972,-1.4],[1972.29,-1.6],[1972.59,-2.2],[1972.88,-2.4],[1973.18,-2.0],[1973.47,-1.6],[1973.76,-1.8],[1974.35,-1.5],[1974.94,-1.2],[1975.53,-1.0],[1976.12,-0.9],[1976.71,-0.7],[1977.15,-0.5],[1977.59,1.5],[1977.88,3.5],[1978.12,4.7],[1978.32,4.0],[1978.62,3.0],[1978.76,1.0],[1978.91,-0.5],[1979.21,-0.8],[1979.65,-0.7],[1979.94,-1.2],[1980.24,-0.8],[1980.68,-1.0],[1981.12,-0.8],[1981.56,-1.3],[1982.0,-1.7],[1982.44,-1.6],[1982.88,-1.2],[1983.18,-0.5],[1983.47,1.0],[1983.91,2.0],[1984.35,2.4],[1984.94,2.5],[1985.24,2.1],[1985.68,2.5],[1986.12,3.0],[1986.56,3.4],[1987.0,3.0],[1987.44,2.0],[1987.88,1.0],[1988.18,0.0],[1988.47,-0.6],[1988.91,-0.3],[1989.35,0.0],[1989.65,0.5],[1989.94,-0.2],[1990.38,-0.5],[1990.82,-1.0],[1991.26,-1.5],[1991.71,-1.8],[1992.15,-2.0],[1992.44,-2.5],[1992.74,-3.2],[1993.18,-4.0],[1993.47,-4.8],[1993.71,-5.3],[1993.91,-4.8],[1994.21,-4.2],[1994.65,-3.6],[1995.09,-3.3],[1995.68,-3.4],[1995.97,-4.0],[1996.41,-4.5],[1996.85,-4.5],[1997.15,-3.5],[1997.44,-2.0],[1997.74,-0.5],[1998.03,1.0],[1998.32,1.3],[1998.62,0.5],[1999.06,-0.3],[1999.5,-0.8],[1999.79,-0.5],[2000.24,0.0],[2000.82,0.5],[2001.12,0.8],[2001.41,0.3],[2001.71,-0.5],[2002.0,-1.5],[2002.29,-2.5],[2002.59,-3.5],[2003.03,-4.5],[2003.32,-5.0],[2003.62,-5.3],[2003.91,-5.0],[2004.35,-4.8],[2004.65,-4.5],[2004.94,-4.0],[2005.38,-3.5],[2005.68,-3.8],[2006.12,-4.2],[2006.41,-4.5],[2006.71,-4.0],[2007.0,-3.5],[2007.29,-3.5],[2007.59,-3.0],[2007.88,-2.5],[2008.47,-2.6],[2009.06,-2.7],[2009.65,-2.5],[2010.24,-2.3],[2010.82,-2.0],[2011.26,-1.5],[2011.56,-2.0],[2011.85,-1.8],[2012,-1.5]];

// ---------- assembly ----------
const panelData = [
  [INDPRO_h1, INDPRO_h3, INDPRO_h6, INDPRO_h9, INDPRO_h12],
  [EMP_h1, EMP_h3, EMP_h6, EMP_h9, EMP_h12],
  [CPI_h1, CPI_h3, CPI_h6, CPI_h9, CPI_h12],
  [SP500_h1, SP500_h3, SP500_h6, SP500_h9, SP500_h12]
];
const panelYTicks = [yTicksINDPRO, yTicksEMP, yTicksCPI, yTicksSP500];
const lineColors = ['#ff0000', '#0000ff', '#000000', '#00e000', '#ffff00'];
const cvColors = ['#2424c8', '#12123c'];
const grids = [
  {left: 23, top: 32, width: 531, height: 306},
  {left: 720, top: 32, width: 532, height: 307},
  {left: 23, top: 454, width: 531, height: 307},
  {left: 720, top: 453, width: 532, height: 304}
];
const FONT = '"Liberation Sans", Arial, sans-serif';

const option = {
  animation: false,
  backgroundColor: '#ffffff',
  title: grids.map((g, i) => ({
    text: panelTitles[i],
    left: g.left + g.width / 2,
    top: i < 2 ? 6 : 428,
    textAlign: 'center',
    padding: 0,
    textStyle: {fontFamily: FONT, fontSize: 19, fontWeight: 'normal', color: '#000'}
  })),
  legend: {
    data: seriesNames.concat(cvNames),
    left: 217, top: 827,
    orient: 'horizontal',
    icon: 'rect',
    itemWidth: 31, itemHeight: 2, itemGap: 10,
    padding: [2, 4, 2, 4],
    borderColor: '#555', borderWidth: 1, backgroundColor: '#fff',
    textStyle: {fontFamily: FONT, fontSize: 28, color: '#000', padding: [0, 0, 0, 0]}
  },
  grid: grids.map(g => Object.assign({show: true, borderColor: '#888', borderWidth: 1, backgroundColor: 'transparent'}, g)),
  xAxis: grids.map((g, i) => ({
    type: 'value', gridIndex: i, min: 1972, max: 2012,
    axisLine: {show: true, onZero: false, lineStyle: {color: '#555'}},
    axisTick: {show: true, inside: true, length: 4, customValues: xTicks, lineStyle: {color: '#555'}},
    axisLabel: {customValues: xTicks, margin: 4, fontFamily: FONT, fontSize: 11, color: '#222', formatter: v => String(v)},
    splitLine: {show: true, lineStyle: {color: '#9a9a9a', type: [1, 2], width: 1}}
  })),
  yAxis: grids.map((g, i) => ({
    type: 'value', gridIndex: i, min: yRanges[i][0], max: yRanges[i][1],
    axisLine: {show: true, onZero: false, lineStyle: {color: '#555'}},
    axisTick: {show: true, inside: true, length: 4, customValues: panelYTicks[i], lineStyle: {color: '#555'}},
    axisLabel: {customValues: panelYTicks[i], margin: 4, fontFamily: FONT, fontSize: 11, color: '#222'},
    splitLine: {show: true, lineStyle: {color: '#9a9a9a', type: [1, 2], width: 1}}
  })),
  series: []
};

grids.forEach((g, i) => {
  option.series.push({
    type: 'line', name: 'recessions', xAxisIndex: i, yAxisIndex: i, data: [], silent: true, z: 0,
    markArea: {silent: true, itemStyle: {color: '#e0e0e0'},
      data: recessions.map(r => [{xAxis: r[0]}, {xAxis: r[1]}])}
  });
  panelData[i].forEach((d, k) => {
    option.series.push({
      type: 'line', name: seriesNames[k], xAxisIndex: i, yAxisIndex: i,
      data: d, symbol: 'none', clip: true, silent: true, z: 3 + k,
      color: lineColors[k],
      lineStyle: {color: lineColors[k], width: 1.8}
    });
  });
  cvValues.forEach((v, k) => {
    option.series.push({
      type: 'line', name: cvNames[k], xAxisIndex: i, yAxisIndex: i,
      data: [[1972, v], [2012, v]], symbol: 'none', silent: true, z: 10,
      color: cvColors[k],
      lineStyle: {color: cvColors[k], width: 2}
    });
  });
});

const chart = echarts.init(document.getElementById('c'), null, {renderer: 'canvas'});
chart.setOption(option);
</script>
</body></html>
